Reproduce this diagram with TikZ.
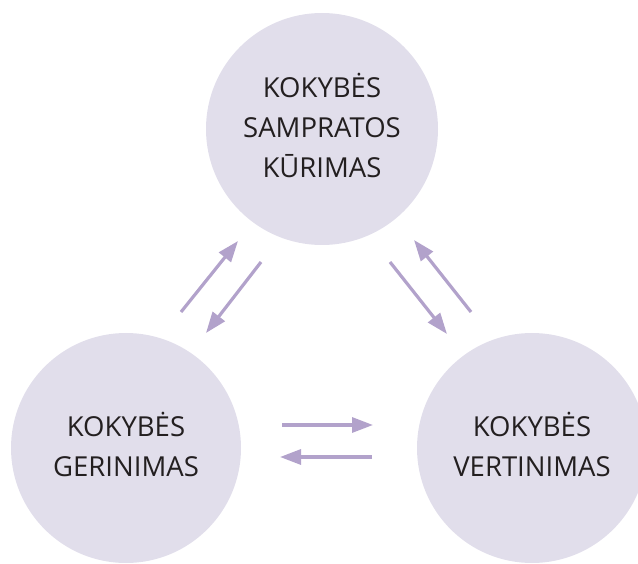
\documentclass[tikz,border=0pt]{standalone}
\usepackage{fontspec}
\setmainfont{Open Sans}
\usetikzlibrary{arrows.meta,calc}
\definecolor{discfill}{HTML}{E1DEEB}
\definecolor{flowcol}{HTML}{B2A2CB}
\definecolor{inkcol}{HTML}{231F20}
\begin{document}
\begin{tikzpicture}[x=1pt,y=-1pt,
  disc/.style={circle,fill=discfill,inner sep=0pt},
  caption/.style={text=inkcol,align=center,yshift=4pt,
    font=\fontsize{27.5}{40}\selectfont},
  flow/.style={draw=flowcol,line width=3.2pt,
    -{Triangle[length=21pt,width=15pt]}}]
  \useasboundingbox (0,0) rectangle (638,564);
  \clip (0,0) rectangle (638,564);

  % the three stages of the quality cycle
  \node[disc,minimum size=232pt,
    label={[caption,name=Tt]center:{KOKYBĖS\\SAMPRATOS\\KŪRIMAS}}] (T) at (322,129) {};
  \node[disc,minimum size=230pt,
    label={[caption,name=Lt]center:{KOKYBĖS\\GERINIMAS}}] (L) at (126,448) {};
  \node[disc,minimum size=230pt,
    label={[caption,name=Rt]center:{KOKYBĖS\\VERTINIMAS}}] (R) at (532,448) {};

  % paired arrows between the stages
  \draw[flow] ($(L)+(55,-136)$) -- ($(T)+(-84,112)$);
  \draw[flow] ($(T)+(-61,133)$) -- ($(L)+(80,-115)$);
  \draw[flow] ($(T)+(68,133)$) -- ($(R)+(-85,-114)$);
  \draw[flow] ($(R)+(-61,-136)$) -- ($(T)+(92,111)$);
  \draw[flow] ($(L)+(156,-23)$) -- ($(R)+(-159,-23)$);
  \draw[flow] ($(R)+(-160,9)$) -- ($(L)+(154,9)$);
\end{tikzpicture}
\end{document}
